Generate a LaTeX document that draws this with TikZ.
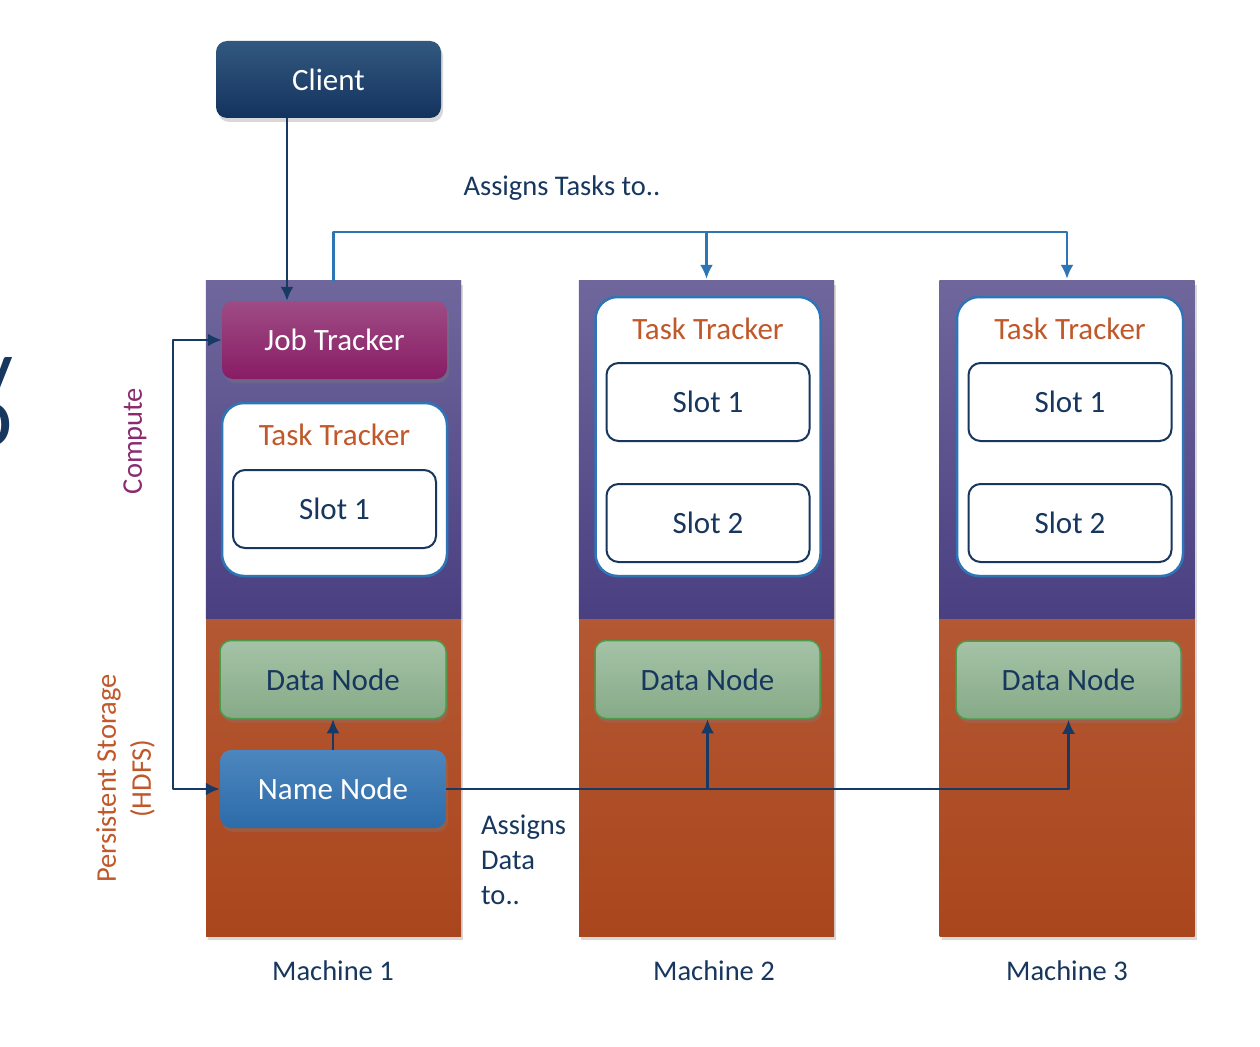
\documentclass[tikz,border=0pt]{standalone}
\usepackage{fontspec}
\setmainfont{Carlito}
\usetikzlibrary{arrows.meta,shadows}

\definecolor{navy}{HTML}{17375E}
\definecolor{arrownavy}{HTML}{173A64}
\definecolor{taskblue}{HTML}{2E75B6}
\definecolor{ttorange}{HTML}{C0582A}
\definecolor{computemag}{HTML}{8B2A6E}
\definecolor{clienttop}{HTML}{33587F}
\definecolor{clientbot}{HTML}{12335E}
\definecolor{jobtop}{HTML}{9E4C85}
\definecolor{jobbot}{HTML}{891C65}
\definecolor{purpletop}{HTML}{6F679C}
\definecolor{purplebot}{HTML}{4A3F81}
\definecolor{orangetop}{HTML}{BE6B4B}
\definecolor{orangebot}{HTML}{AA461D}
\definecolor{datatop}{HTML}{A5C3A7}
\definecolor{databot}{HTML}{86AA87}
\definecolor{dataedge}{HTML}{4E9A4A}
\definecolor{nametop}{HTML}{4D86BE}
\definecolor{namebot}{HTML}{2C6CA9}

\begin{document}
\begin{tikzpicture}
  [
    x=1pt, y=-1pt,
    line join=round,
    flow/.style={draw=arrownavy, line width=2.5pt, >={Latex[length=14pt,width=13pt]}, ->},
    task/.style={flow, draw=taskblue},
    shade/.style={drop shadow={shadow xshift=2pt, shadow yshift=-4pt, opacity=.3}},
    box/.style={shade, rounded corners=11pt, minimum width=226pt, minimum height=78pt,
      inner sep=0pt, font=\fontsize{31}{36}\selectfont},
    slot/.style={draw=navy, line width=2pt, rounded corners=12pt, fill=white,
      minimum width=203pt, minimum height=78pt, inner sep=0pt, text=navy,
      font=\fontsize{31}{36}\selectfont},
    tracker/.style={draw=taskblue, line width=2.5pt, fill=white, rounded corners=22pt,
      minimum width=225pt, inner sep=0pt},
    column/.style={shade, minimum width=255pt, minimum height=655pt, inner sep=0pt,
      top color=orangetop, bottom color=orangebot},
    label/.style={text=navy, font=\fontsize{28.5}{35}\selectfont},
  ]

\useasboundingbox[fill=white] (0,0) rectangle (1260,1046);

% cut-off heading at the left edge
\node[anchor=north east, align=right, inner sep=0pt, text=navy,
  font={\fontsize{90}{46}\selectfont\lineskiplimit=-1000pt}] (head) at (13,357) {y\\o};

\def\colMid{608.5}
\def\splitY{618}

\newcommand\machine[3]{
  \node[column] (m#1) at (#2,\colMid) {};
  \fill[top color=purpletop, bottom color=purplebot]
    (m#1.north west) rectangle (m#1.east |- 0,\splitY);
  \node[label] (ml#1) at (#3,971) {Machine #1};
}
\machine{1}{333.5}{333}
\machine{2}{706.5}{714}
\machine{3}{1067}{1067}

\node[rotate=90, text=computemag, font=\fontsize{28.5}{35}\selectfont] (cmp) at (135,441) {Compute};
\node[rotate=90, align=center, text=ttorange, font=\fontsize{28.5}{35}\selectfont] (pst) at (125.5,778.5)
  {Persistent Storage\\(HDFS)};

% client and job tracker
\node[box, top color=clienttop, bottom color=clientbot, text=white, minimum width=225pt, minimum height=77pt]
  (client) at (328.5,79.5) {Client};
\node[box, top color=jobtop, bottom color=jobbot, text=white, minimum width=225pt]
  (jt) at (334.5,340) {Job Tracker};

% task trackers
\node[tracker, minimum height=173pt] (t1) at (334.5,489.5) {};
\node[tracker, minimum height=279pt] (t2) at (708,436.5) {};
\node[tracker, minimum height=279pt, minimum width=226pt] (t3) at (1070,436.5) {};
\foreach \i in {1,2,3}
  \node[text=ttorange, font=\fontsize{31}{36}\selectfont] (tt\i) at ([yshift=-33pt]t\i.north) {Task Tracker};

\node[slot] (s11) at (334.5,509) {Slot 1};
\node[slot] (s21) at (708,402) {Slot 1};
\node[slot] (s22) at (708,523) {Slot 2};
\node[slot] (s31) at (1070,402) {Slot 1};
\node[slot] (s32) at (1070,523) {Slot 2};

% storage
\node[box, top color=datatop, bottom color=databot, draw=dataedge, line width=1.5pt, text=navy]
  (d1) at (333,679.5) {Data Node};
\node[box, top color=datatop, bottom color=databot, draw=dataedge, line width=1.5pt, text=navy, minimum width=225pt]
  (d2) at (707.5,679.5) {Data Node};
\node[box, top color=datatop, bottom color=databot, draw=dataedge, line width=1.5pt, text=navy, minimum width=225pt]
  (d3) at (1068.5,680) {Data Node};
\node[box, top color=nametop, bottom color=namebot, text=white]
  (nn) at (333,789) {Name Node};

% connectors
\coordinate (cl) at (287,0);
\coordinate (bus) at (0,232);
\draw[flow] (client.south -| cl) -- (jt.north -| cl);
\draw[flow, <->] (jt.west) -- ++(-49,0) |- (nn.west);
\draw[flow] (nn.north) -- (d1.south);
\draw[flow] (nn.east) -| (d3.south);
\draw[flow] (nn.east -| d2.south) -- (d2.south);

\draw[task, shorten >=2pt] (m1.north) |- (bus -| m3.north) -- (m3.north);
\draw[task, shorten >=2pt] (bus -| m2.north) -- (m2.north);

\node[label] (atk) at (562,188) {Assigns Tasks to..};
\node[label, anchor=north west, align=left, inner sep=0pt] (adt) at (481,815) {Assigns\\Data\\to..};

\end{tikzpicture}
\end{document}
